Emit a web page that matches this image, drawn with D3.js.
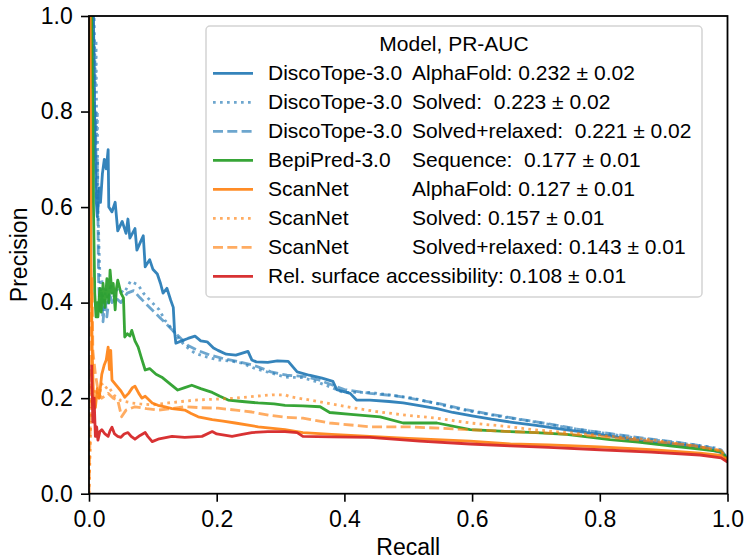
<!DOCTYPE html>
<html>
<head>
<meta charset="utf-8">
<script src="https://cdn.jsdelivr.net/npm/d3@7"></script>
<style>
  html, body { margin: 0; padding: 0; background: #fff; }
  text { font-family: "Liberation Sans", Arial, Helvetica, sans-serif; fill: #000; }
</style>
</head>
<body>
<div id="chart"></div>
<script>
// recall / precision pairs, one array per model
const discoAlphaFold = [[0.004,1.0],[0.006,0.85],[0.007,1.0],[0.009,0.78],[0.011,0.62],[0.013,0.58],[0.016,0.64],[0.018,0.61],[0.021,0.67],[0.024,0.70],[0.027,0.68],[0.030,0.72],[0.031,0.60],[0.036,0.59],[0.041,0.61],[0.045,0.55],[0.052,0.57],[0.058,0.545],[0.061,0.575],[0.064,0.535],[0.072,0.555],[0.075,0.51],[0.080,0.525],[0.085,0.54],[0.088,0.475],[0.095,0.49],[0.100,0.47],[0.107,0.46],[0.112,0.44],[0.116,0.42],[0.122,0.43],[0.128,0.405],[0.132,0.39],[0.134,0.34],[0.136,0.315],[0.145,0.32],[0.155,0.325],[0.166,0.33],[0.175,0.32],[0.185,0.318],[0.195,0.305],[0.202,0.30],[0.215,0.292],[0.230,0.29],[0.249,0.298],[0.255,0.28],[0.262,0.276],[0.280,0.275],[0.295,0.278],[0.312,0.277],[0.326,0.255],[0.345,0.248],[0.365,0.242],[0.382,0.235],[0.388,0.218],[0.409,0.21],[0.419,0.196],[0.440,0.196],[0.470,0.193],[0.492,0.19],[0.520,0.184],[0.545,0.178],[0.570,0.17],[0.600,0.163],[0.630,0.156],[0.660,0.15],[0.700,0.143],[0.740,0.135],[0.774,0.129],[0.820,0.12],[0.879,0.108],[0.920,0.103],[0.957,0.098],[0.988,0.087],[0.995,0.08],[1.0,0.066]];
const discoSolved = [[0.005,1.0],[0.007,0.9],[0.008,1.0],[0.010,0.85],[0.011,0.95],[0.012,0.75],[0.013,0.8],[0.014,0.6],[0.016,0.5],[0.018,0.42],[0.020,0.45],[0.023,0.38],[0.026,0.43],[0.030,0.40],[0.034,0.44],[0.038,0.41],[0.045,0.43],[0.055,0.42],[0.065,0.445],[0.077,0.437],[0.085,0.42],[0.099,0.40],[0.110,0.385],[0.119,0.363],[0.130,0.345],[0.139,0.327],[0.150,0.31],[0.166,0.294],[0.185,0.286],[0.202,0.28],[0.220,0.278],[0.240,0.273],[0.260,0.262],[0.287,0.252],[0.307,0.244],[0.335,0.243],[0.355,0.235],[0.373,0.226],[0.398,0.212],[0.440,0.212],[0.470,0.207],[0.507,0.2],[0.540,0.19],[0.570,0.18],[0.600,0.172],[0.630,0.165],[0.660,0.158],[0.700,0.15],[0.750,0.138],[0.800,0.128],[0.850,0.118],[0.900,0.11],[0.950,0.102],[0.985,0.095],[1.0,0.075]];
const discoRelaxed = [[0.006,1.0],[0.008,0.9],[0.009,0.7],[0.010,0.8],[0.012,0.62],[0.013,0.7],[0.015,0.45],[0.017,0.38],[0.020,0.42],[0.022,0.36],[0.025,0.41],[0.028,0.37],[0.032,0.42],[0.036,0.40],[0.042,0.41],[0.050,0.40],[0.060,0.42],[0.070,0.425],[0.080,0.41],[0.095,0.39],[0.110,0.37],[0.125,0.35],[0.140,0.33],[0.155,0.31],[0.170,0.30],[0.190,0.29],[0.210,0.283],[0.235,0.276],[0.260,0.268],[0.285,0.255],[0.310,0.248],[0.340,0.245],[0.360,0.238],[0.380,0.228],[0.400,0.218],[0.440,0.21],[0.480,0.205],[0.510,0.198],[0.550,0.188],[0.590,0.176],[0.630,0.166],[0.670,0.157],[0.720,0.146],[0.770,0.134],[0.820,0.125],[0.870,0.116],[0.920,0.108],[0.960,0.1],[0.990,0.092],[1.0,0.073]];
const bepiSequence = [[0.004,1.0],[0.006,0.8],[0.007,0.6],[0.009,0.42],[0.011,0.37],[0.013,0.40],[0.014,0.37],[0.017,0.43],[0.019,0.38],[0.022,0.44],[0.025,0.39],[0.028,0.45],[0.031,0.40],[0.033,0.468],[0.036,0.42],[0.038,0.44],[0.041,0.385],[0.043,0.43],[0.045,0.447],[0.050,0.42],[0.054,0.41],[0.056,0.328],[0.060,0.335],[0.064,0.33],[0.067,0.342],[0.072,0.32],[0.077,0.307],[0.083,0.28],[0.088,0.259],[0.095,0.262],[0.105,0.25],[0.114,0.244],[0.125,0.232],[0.139,0.217],[0.150,0.222],[0.161,0.227],[0.175,0.22],[0.193,0.212],[0.205,0.204],[0.218,0.196],[0.240,0.193],[0.265,0.19],[0.290,0.188],[0.307,0.185],[0.335,0.184],[0.362,0.182],[0.377,0.17],[0.410,0.166],[0.456,0.161],[0.492,0.148],[0.545,0.148],[0.597,0.134],[0.660,0.13],[0.700,0.128],[0.748,0.124],[0.816,0.113],[0.860,0.108],[0.910,0.1],[0.960,0.093],[0.990,0.088],[1.0,0.072]];
const scanAlphaFold = [[0.002,1.0],[0.003,0.5],[0.005,0.3],[0.007,0.2],[0.010,0.18],[0.013,0.22],[0.016,0.2],[0.020,0.25],[0.024,0.27],[0.027,0.28],[0.030,0.307],[0.032,0.26],[0.033,0.28],[0.034,0.30],[0.036,0.238],[0.045,0.223],[0.050,0.215],[0.056,0.202],[0.062,0.21],[0.068,0.222],[0.072,0.225],[0.078,0.21],[0.083,0.2],[0.088,0.204],[0.099,0.19],[0.108,0.185],[0.119,0.182],[0.130,0.178],[0.150,0.175],[0.160,0.168],[0.171,0.161],[0.193,0.155],[0.210,0.152],[0.229,0.148],[0.265,0.14],[0.307,0.134],[0.335,0.128],[0.380,0.124],[0.440,0.12],[0.500,0.116],[0.597,0.11],[0.660,0.104],[0.720,0.102],[0.800,0.098],[0.880,0.092],[0.957,0.085],[0.990,0.08],[1.0,0.07]];
const scanSolved = [[0.0,0.0],[0.002,0.1],[0.004,0.25],[0.006,0.18],[0.010,0.22],[0.015,0.2],[0.020,0.23],[0.025,0.22],[0.030,0.225],[0.040,0.205],[0.050,0.195],[0.067,0.19],[0.080,0.188],[0.100,0.186],[0.124,0.19],[0.145,0.193],[0.166,0.196],[0.200,0.198],[0.229,0.2],[0.260,0.204],[0.287,0.207],[0.307,0.207],[0.315,0.203],[0.346,0.196],[0.380,0.188],[0.413,0.18],[0.450,0.172],[0.492,0.165],[0.545,0.158],[0.597,0.148],[0.660,0.14],[0.695,0.134],[0.750,0.128],[0.800,0.122],[0.879,0.113],[0.957,0.098],[0.990,0.09],[1.0,0.07]];
const scanRelaxed = [[0.0,0.0],[0.002,0.15],[0.003,0.35],[0.005,0.45],[0.006,0.3],[0.010,0.25],[0.015,0.21],[0.020,0.2],[0.030,0.21],[0.038,0.2],[0.045,0.196],[0.051,0.161],[0.058,0.175],[0.072,0.182],[0.090,0.178],[0.108,0.175],[0.130,0.178],[0.150,0.182],[0.175,0.18],[0.202,0.179],[0.230,0.175],[0.255,0.171],[0.283,0.164],[0.307,0.16],[0.335,0.158],[0.377,0.148],[0.440,0.14],[0.503,0.14],[0.597,0.134],[0.660,0.13],[0.720,0.127],[0.800,0.12],[0.879,0.11],[0.950,0.1],[0.990,0.09],[1.0,0.07]];
const relSurface = [[0.004,0.27],[0.006,0.15],[0.008,0.2],[0.010,0.12],[0.012,0.14],[0.014,0.112],[0.017,0.13],[0.020,0.134],[0.025,0.125],[0.030,0.12],[0.033,0.132],[0.036,0.139],[0.040,0.125],[0.045,0.12],[0.050,0.118],[0.055,0.125],[0.061,0.128],[0.066,0.12],[0.072,0.114],[0.080,0.122],[0.088,0.128],[0.092,0.12],[0.099,0.109],[0.110,0.115],[0.130,0.12],[0.150,0.118],[0.177,0.12],[0.193,0.13],[0.200,0.125],[0.224,0.12],[0.240,0.124],[0.255,0.128],[0.280,0.13],[0.307,0.13],[0.326,0.128],[0.335,0.12],[0.380,0.119],[0.440,0.118],[0.518,0.11],[0.597,0.104],[0.660,0.1],[0.720,0.097],[0.800,0.092],[0.880,0.087],[0.957,0.081],[0.990,0.075],[1.0,0.066]];

const modelNames = ["DiscoTope-3.0", "DiscoTope-3.0", "DiscoTope-3.0", "BepiPred-3.0", "ScanNet", "ScanNet", "ScanNet", "Rel. surface accessibility: 0.108 \u00b1 0.01"];
const modelScores = ["AlphaFold: 0.232 \u00b1 0.02", "Solved:  0.223 \u00b1 0.02", "Solved+relaxed:  0.221 \u00b1 0.02", "Sequence:  0.177 \u00b1 0.01", "AlphaFold: 0.127 \u00b1 0.01", "Solved: 0.157 \u00b1 0.01", "Solved+relaxed: 0.143 \u00b1 0.01", ""];
const yTicks = [0.0, 0.2, 0.4, 0.6, 0.8, 1.0];
const xTicks = [0.0, 0.2, 0.4, 0.6, 0.8, 1.0];

const BLUE = "#1f77b4", GREEN = "#2ca02c", ORANGE = "#ff7f0e", RED = "#d62728";

const series = [
  {data: discoAlphaFold, color: BLUE,   dash: null,       alpha: 0.9},
  {data: discoSolved,    color: BLUE,   dash: "2.7,4.3",  alpha: 0.65},
  {data: discoRelaxed,   color: BLUE,   dash: "10,4.3",   alpha: 0.65},
  {data: bepiSequence,   color: GREEN,  dash: null,       alpha: 0.95},
  {data: scanAlphaFold,  color: ORANGE, dash: null,       alpha: 0.9},
  {data: scanSolved,     color: ORANGE, dash: "2.7,4.3",  alpha: 0.65},
  {data: scanRelaxed,    color: ORANGE, dash: "10,4.3",   alpha: 0.65},
  {data: relSurface,     color: RED,    dash: null,       alpha: 0.95}
];

let svg = null, x = null, y = null;
const plot = {left: 89, right: 727.5, top: 16, bottom: 493.7};

svg = d3.select("#chart").append("svg")
  .attr("width", 746)
  .attr("height", 557);

x = d3.scaleLinear().domain([0, 1]).range([plot.left, plot.right]);
y = d3.scaleLinear().domain([0, 1]).range([plot.bottom, plot.top]);

svg.append("clipPath").attr("id", "plotClip")
  .append("rect")
  .attr("x", plot.left).attr("y", plot.top)
  .attr("width", plot.right - plot.left).attr("height", plot.bottom - plot.top);

drawLines();
drawAxes();
drawLegend();

/**
 * draws the eight precision-recall curves, in legend order
 */
function drawLines() {
  let line = d3.line()
    .x(d => x(d[0]))
    .y(d => y(d[1]));

  let g = svg.append("g").attr("clip-path", "url(#plotClip)");
  series.forEach(s => {
    g.append("path")
      .datum(s.data)
      .attr("fill", "none")
      .attr("stroke", s.color)
      .attr("stroke-opacity", s.alpha)
      .attr("stroke-width", 2.8)
      .attr("stroke-dasharray", s.dash)
      .attr("stroke-linejoin", "round")
      .attr("d", line);
  });
}

/**
 * axes, frame and axis titles
 */
function drawAxes() {
  let xAxis = svg.append("g")
    .attr("transform", `translate(0, ${plot.bottom})`)
    .call(d3.axisBottom(x).tickValues(xTicks).tickFormat(d3.format(".1f"))
      .tickSize(8).tickSizeOuter(0).tickPadding(8.5));

  let yAxis = svg.append("g")
    .attr("transform", `translate(${plot.left}, 0)`)
    .call(d3.axisLeft(y).tickValues(yTicks).tickFormat(d3.format(".1f"))
      .tickSize(8).tickSizeOuter(0).tickPadding(8.3));

  [xAxis, yAxis].forEach(a => {
    a.select(".domain").remove();
    a.selectAll(".tick line").attr("stroke", "#000").attr("stroke-width", 1.6);
    a.selectAll(".tick text")
      .style("font-family", "'Liberation Sans', Arial, sans-serif")
      .style("font-size", "23px")
      .attr("fill", "#000");
  });

  // full frame around the plot
  svg.append("rect")
    .attr("x", plot.left).attr("y", plot.top)
    .attr("width", plot.right - plot.left)
    .attr("height", plot.bottom - plot.top)
    .attr("fill", "none")
    .attr("stroke", "#000")
    .attr("stroke-width", 1.8);

  svg.append("text")
    .attr("x", x(0.5))
    .attr("y", 555)
    .attr("text-anchor", "middle")
    .style("font-size", "23px")
    .text("Recall");

  svg.append("text")
    .attr("transform", `translate(27, ${(plot.top + plot.bottom) / 2}) rotate(-90)`)
    .attr("text-anchor", "middle")
    .style("font-size", "23px")
    .text("Precision");
}

/**
 * legend box in the upper right with a title and one row per curve
 */
function drawLegend() {
  let legend = svg.append("g").attr("class", "legend");

  legend.append("rect")
    .attr("x", 206).attr("y", 26)
    .attr("width", 496).attr("height", 271)
    .attr("rx", 4)
    .attr("fill", "#fff").attr("fill-opacity", 0.8)
    .attr("stroke", "#d4d4d4").attr("stroke-width", 1.5);

  legend.append("text")
    .attr("x", 454).attr("y", 51)
    .attr("text-anchor", "middle")
    .style("font-size", "21px")
    .text("Model, PR-AUC");

  series.forEach((s, i) => {
    let rowY = 73.3 + i * 29;
    legend.append("line")
      .attr("x1", 213).attr("x2", 253)
      .attr("y1", rowY).attr("y2", rowY)
      .attr("stroke", s.color)
      .attr("stroke-opacity", s.alpha)
      .attr("stroke-width", 2.8)
      .attr("stroke-dasharray", s.dash);

    legend.append("text")
      .attr("x", 268).attr("y", rowY + 6.8)
      .style("font-size", "21px")
      .style("white-space", "pre")
      .text(modelNames[i]);

    if (modelScores[i]) {
      legend.append("text")
        .attr("x", 412).attr("y", rowY + 6.8)
        .style("font-size", "21px")
        .style("white-space", "pre")
        .attr("textLength", null)
        .text(modelScores[i]);
    }
  });
}
</script>
</body>
</html>
